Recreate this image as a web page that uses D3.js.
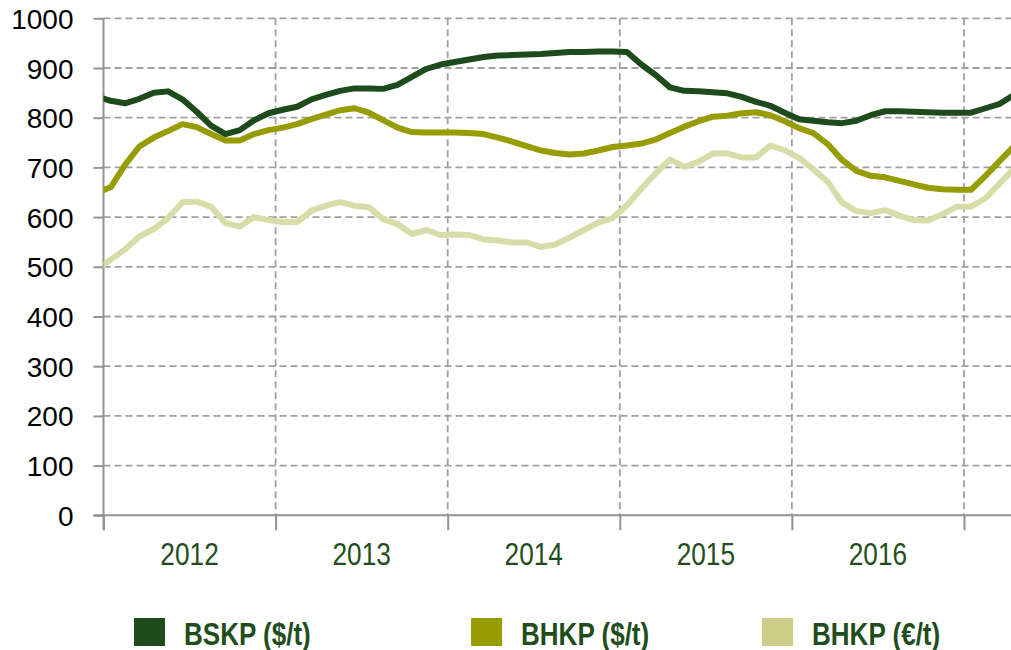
<!DOCTYPE html>
<html>
<head>
<meta charset="utf-8">
<script src="https://cdn.jsdelivr.net/npm/d3@7"></script>
<style>
  body { margin: 0; background: #fff; }
  svg { display: block; }
  .ylab { font-family: "Liberation Sans", Arial, sans-serif; font-size: 28px; fill: #000; }
  .xlab { font-family: "Liberation Sans", Arial, sans-serif; font-size: 32px; fill: #1f4e1c; }
  .leg { font-family: "Liberation Sans", Arial, sans-serif; font-size: 31px; font-weight: bold; fill: #1f4e1c; }
</style>
</head>
<body>
<svg width="1011" height="650"></svg>
<script>
const width = 1011;
const height = 650;

// monthly values, Dec 2011 .. Apr 2017
const firstMonth = new Date(2011, 11, 1);
const months = d3.timeMonth.range(firstMonth, new Date(2017, 4, 1));

const bskp = [843,
  834, 829, 838, 850, 853, 837, 812, 784, 767, 775, 795, 809,
  816, 822, 837, 846, 854, 859, 859, 858, 866, 882, 898, 907,
  912, 917, 922, 925, 926, 927, 928, 930, 932, 932, 933, 933,
  932, 907, 886, 861, 854, 853, 851, 849, 842, 832, 824, 810,
  797, 794, 791, 789, 794, 805, 813, 813, 812, 811, 810, 810,
  810, 819, 828, 846];

const bhkpUsd = [649,
  660, 705, 742, 760, 773, 787, 781, 767, 754, 754, 767, 775,
  780, 787, 797, 806, 815, 819, 810, 795, 780, 771, 770, 770,
  770, 769, 767, 760, 752, 743, 734, 729, 726, 728, 734, 741,
  744, 748, 756, 769, 782, 793, 802, 804, 809, 811, 805, 793,
  779, 769, 747, 715, 693, 683, 680, 673, 666, 659, 656, 655,
  655, 683, 713, 743];

const bhkpEur = [494,
  514, 535, 561, 576, 598, 630, 631, 621, 588, 581, 600, 594,
  590, 590, 613, 623, 630, 623, 620, 596, 586, 566, 574, 564,
  565, 564, 555, 553, 549, 549, 540, 545, 559, 574, 589, 598,
  624, 657, 688, 716, 701, 711, 728, 728, 720, 720, 744, 735,
  719, 696, 671, 629, 612, 608, 614, 603, 594, 593, 606, 621,
  621, 638, 668, 698];

const seriesNames = ["BSKP ($/t)", "BHKP ($/t)", "BHKP (€/t)"];
const years = [2012, 2013, 2014, 2015, 2016];
const yTicks = [0, 100, 200, 300, 400, 500, 600, 700, 800, 900, 1000];

const lineColors = ["#1e4b1b", "#979c00", "#d8dca8"];
const swatchColors = ["#1e4b1b", "#979c00", "#cccd87"];
const legendX = [134, 471, 762];

var svg = d3.select("svg");

var plotLeft = 103.5, plotRight = 1011, plotTop = 18.3, plotBottom = 515.3;

// x is in months since Jan 2012
var x = d3.scaleLinear().domain([0, 63.28]).range([plotLeft, plotRight]);
var y = d3.scaleLinear().domain([0, 1000]).range([plotBottom, plotTop]);

function monthIndex(d) {
    return (d.getFullYear() - 2012) * 12 + d.getMonth() + 0.5;
}

// grid
svg.append("g")
    .selectAll("line")
    .data(yTicks.filter(d => d > 0))
    .join("line")
    .attr("x1", plotLeft).attr("x2", plotRight)
    .attr("y1", d => y(d)).attr("y2", d => y(d))
    .attr("stroke", "#a0a0a0")
    .attr("stroke-width", 1.8)
    .attr("stroke-dasharray", "7,4");

svg.append("g")
    .selectAll("line")
    .data(years.slice(1).concat([2017]))
    .join("line")
    .attr("x1", d => x((d - 2012) * 12)).attr("x2", d => x((d - 2012) * 12))
    .attr("y1", plotTop).attr("y2", plotBottom)
    .attr("stroke", "#a0a0a0")
    .attr("stroke-width", 1.8)
    .attr("stroke-dasharray", "7,4");

// axes
var yAxis = d3.axisLeft(y).tickValues(yTicks).tickSize(10).tickPadding(20).tickFormat(d3.format("d"));
svg.append("g")
    .attr("transform", `translate(${plotLeft},0)`)
    .call(yAxis)
    .call(g => g.select(".domain").attr("d", `M0,${plotTop}V${plotBottom + 15}`))
    .call(g => g.selectAll("line, path").attr("stroke", "#939393").attr("stroke-width", 2))
    .call(g => g.attr("font-size", null).attr("font-family", null))
    .call(g => g.selectAll("text").attr("class", "ylab").attr("fill", null).attr("dy", "0.36em"));

var xAxis = d3.axisBottom(x).tickValues(years.concat([2017]).map(d => (d - 2012) * 12)).tickSize(15).tickFormat("");
svg.append("g")
    .attr("transform", `translate(0,${plotBottom})`)
    .call(xAxis)
    .call(g => g.select(".domain").attr("d", `M${plotLeft - 10},0H${plotRight}`))
    .call(g => g.selectAll("line, path").attr("stroke", "#939393").attr("stroke-width", 2));

// narrow-looking year labels
svg.append("g")
    .selectAll("text")
    .data(years)
    .join("text")
    .attr("class", "xlab")
    .attr("transform", d => `translate(${x((d - 2012) * 12 + 6)},565) scale(0.82,1)`)
    .attr("text-anchor", "middle")
    .text(d => d);

// lines
svg.append("clipPath").attr("id", "plot")
    .append("rect").attr("x", plotLeft).attr("y", 0).attr("width", plotRight - plotLeft).attr("height", plotBottom);

var line = d3.line()
    .x((d, i) => x(monthIndex(months[i])))
    .y(d => y(d));

var series = [bskp, bhkpUsd, bhkpEur];
svg.append("g")
    .attr("clip-path", "url(#plot)")
    .selectAll("path")
    .data(series)
    .join("path")
    .attr("d", line)
    .attr("fill", "none")
    .attr("stroke", (d, i) => lineColors[i])
    .attr("stroke-width", 6)
    .attr("stroke-linejoin", "round");

// legend
var leg = svg.append("g")
    .selectAll("g")
    .data(seriesNames)
    .join("g")
    .attr("transform", (d, i) => `translate(${legendX[i]},618)`);

leg.append("rect")
    .attr("width", 31).attr("height", 28)
    .attr("fill", (d, i) => swatchColors[i]);

leg.append("text")
    .attr("class", "leg")
    .attr("transform", "translate(50,27) scale(0.84,1)")
    .text(d => d);
</script>
</body>
</html>
